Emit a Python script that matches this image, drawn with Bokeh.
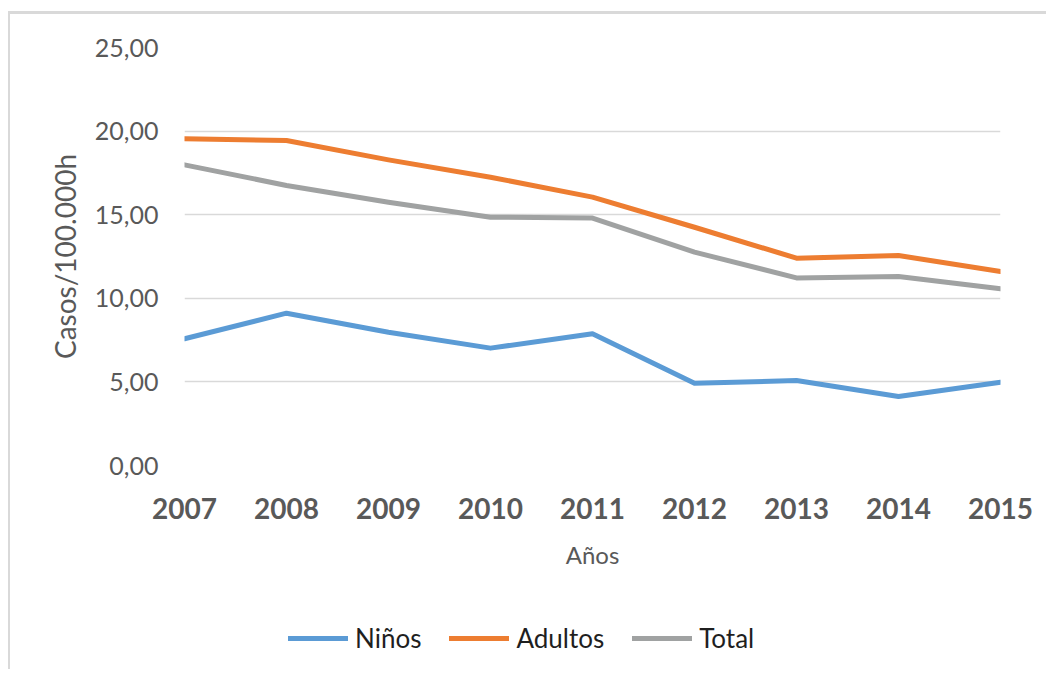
from bokeh.plotting import figure
from bokeh.layouts import column
from bokeh.models import Legend, LegendItem, FixedTicker, Range1d
from bokeh.embed import file_html
from bokeh.resources import INLINE

years = [2007, 2008, 2009, 2010, 2011, 2012, 2013, 2014, 2015]
ninos = [7.58, 9.11, 7.97, 7.02, 7.88, 4.92, 5.08, 4.13, 4.98]
adultos = [19.54, 19.44, 18.28, 17.24, 16.05, 14.25, 12.40, 12.56, 11.60]
total = [17.98, 16.75, 15.75, 14.85, 14.80, 12.76, 11.22, 11.30, 10.57]

y_ticks = [0, 5, 10, 15, 20, 25]
y_tick_labels = ["0,00", "5,00", "10,00", "15,00", "20,00", "25,00"]
series_names = ["Niños", "Adultos", "Total"]
colors = ["#5B9BD5", "#ED7D31", "#A0A2A2"]

FONT = "Lato"
W, H1, H2 = 1036, 560, 95

p = figure(width=W, height=H1, output_backend="svg", toolbar_location=None,
           x_range=Range1d(2007, 2015), y_range=Range1d(0, 25),
           min_border_left=174, min_border_right=46, min_border_top=33,
           min_border_bottom=H1 - 451)
p.outline_line_color = None
p.background_fill_color = "white"
p.border_fill_color = "white"

p.xgrid.grid_line_color = None
p.ygrid.grid_line_color = "#D9D9D9"
p.ygrid.grid_line_width = 1.5

p.yaxis.ticker = FixedTicker(ticks=y_ticks)
p.yaxis.major_label_overrides = {t: l for t, l in zip(y_ticks, y_tick_labels)}
p.xaxis.ticker = FixedTicker(ticks=years)
p.xaxis.major_label_overrides = {y: str(y) for y in years}

for ax in (p.xaxis, p.yaxis):
    ax.axis_line_color = None
    ax.major_tick_line_color = None
    ax.minor_tick_line_color = None
    ax.major_label_text_font = FONT
    ax.major_label_text_color = "#595959"
    ax.axis_label_text_font = FONT
    ax.axis_label_text_color = "#595959"
    ax.axis_label_text_font_style = "normal"

p.yaxis.major_label_text_font_size = "25px"
p.yaxis.major_label_standoff = 20
p.yaxis.axis_label = "Casos/100.000h"
p.yaxis.axis_label_text_font_size = "28px"
p.yaxis.axis_label_standoff = 10

p.xaxis.major_label_text_font_size = "28px"
p.xaxis.major_label_text_font_style = "bold"
p.xaxis.major_label_standoff = 26
p.xaxis.axis_label = "Años"
p.xaxis.axis_label_text_font_size = "24px"
p.xaxis.axis_label_standoff = 18

series = [ninos, adultos, total]
for vals, c in zip(series, colors):
    p.line(years, vals, line_color=c, line_width=5, line_cap="round", line_join="round")

# legend strip below the chart (its own lines lie outside its view)
q = figure(width=W, height=H2, output_backend="svg", toolbar_location=None,
           x_range=Range1d(0, 1), y_range=Range1d(0, 1), min_border=0,
           min_border_left=0, min_border_right=0, min_border_top=0, min_border_bottom=0)
q.axis.visible = False
q.grid.visible = False
q.outline_line_color = None
q.background_fill_color = "white"
q.border_fill_color = "white"

items = []
for name, vals, c in zip(series_names, series, colors):
    r = q.line(years, vals, line_color=c, line_width=5, line_cap="round")
    items.append(LegendItem(label=name, renderers=[r]))

legend = Legend(items=items, orientation="horizontal", location=(104, 15),
                padding=0, margin=0, spacing=28, glyph_width=60, glyph_height=30,
                label_height=30, label_standoff=7,
                label_text_font=FONT, label_text_font_size="26px",
                label_text_color="#1F1F1F", border_line_color=None,
                background_fill_alpha=0)
q.add_layout(legend, "center")

layout = column(p, q, spacing=0)
layout.styles = {"border-left": "2px solid #D9D9D9", "border-top": "3px solid #D9D9D9",
                 "margin-top": "11px", "margin-left": "8px"}

open("out.html", "w").write(file_html(layout, INLINE))
